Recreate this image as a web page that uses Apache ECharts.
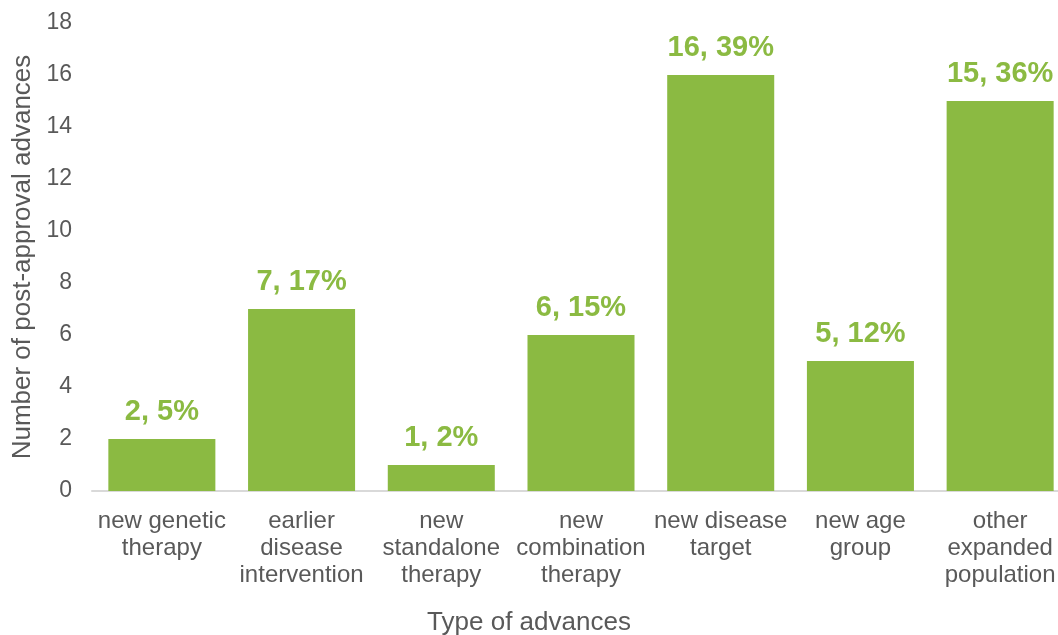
<!DOCTYPE html>
<html>
<head>
<meta charset="utf-8">
<script src="https://cdn.jsdelivr.net/npm/echarts@6/dist/echarts.min.js"></script>
<style>
  html, body { margin: 0; padding: 0; background: #ffffff; overflow: hidden; }
  #chart { width: 1058px; height: 635px; }
</style>
</head>
<body>
<div id="chart"></div>
<script>
// Types of post-approval advances
const categories = [
  'new genetic\ntherapy',
  'earlier\ndisease\nintervention',
  'new\nstandalone\ntherapy',
  'new\ncombination\ntherapy',
  'new disease\ntarget',
  'new age\ngroup',
  'other\nexpanded\npopulation'
];
// Number of advances in each type
const counts = [2, 7, 1, 6, 16, 5, 15];
// Share of all advances, in percent
const shares = [5, 17, 2, 15, 39, 12, 36];
// Value-axis tick range
const yTicks = { min: 0, max: 18, step: 2 };

const FONT = '"Liberation Sans", Arial, sans-serif';
const GREY = '#595959';
const GREEN = '#8bba42';

const chart = echarts.init(document.getElementById('chart'));
chart.setOption({
  animation: false,
  backgroundColor: '#ffffff',
  textStyle: { fontFamily: FONT },
  title: {
    text: 'Type of advances',
    left: 'center',
    top: 610,
    padding: 0,
    textStyle: { fontFamily: FONT, fontSize: 26, fontWeight: 'normal', color: GREY }
  },
  // the plot runs slightly past the right edge of the canvas
  grid: { left: 92, width: 978, top: 23, height: 468, containLabel: false, outerBoundsMode: 'none' },
  xAxis: {
    type: 'category',
    data: categories,
    axisLine: { show: true, lineStyle: { color: '#d9d9d9', width: 2 } },
    axisTick: { show: false },
    axisLabel: {
      color: GREY,
      fontFamily: FONT,
      fontSize: 24,
      lineHeight: 27,
      margin: 17,
      interval: 0
    }
  },
  yAxis: {
    type: 'value',
    min: yTicks.min,
    max: yTicks.max,
    interval: yTicks.step,
    name: 'Number of post-approval advances',
    nameLocation: 'middle',
    nameGap: 56,
    nameTextStyle: { color: GREY, fontFamily: FONT, fontSize: 26 },
    axisLine: { show: false },
    axisTick: { show: false },
    splitLine: { show: false },
    axisLabel: {
      color: GREY,
      fontFamily: FONT,
      fontSize: 23,
      margin: 20,
      verticalAlign: 'middle',
      padding: [6, 0, 0, 0]
    }
  },
  series: [{
    type: 'bar',
    data: counts,
    barCategoryGap: '23.4%',
    itemStyle: { color: GREEN },
    label: {
      show: true,
      position: 'top',
      distance: 13,
      color: GREEN,
      fontFamily: FONT,
      fontSize: 29,
      fontWeight: 'bold',
      formatter: p => `${counts[p.dataIndex]}, ${shares[p.dataIndex]}%`
    }
  }]
});
</script>
</body>
</html>
